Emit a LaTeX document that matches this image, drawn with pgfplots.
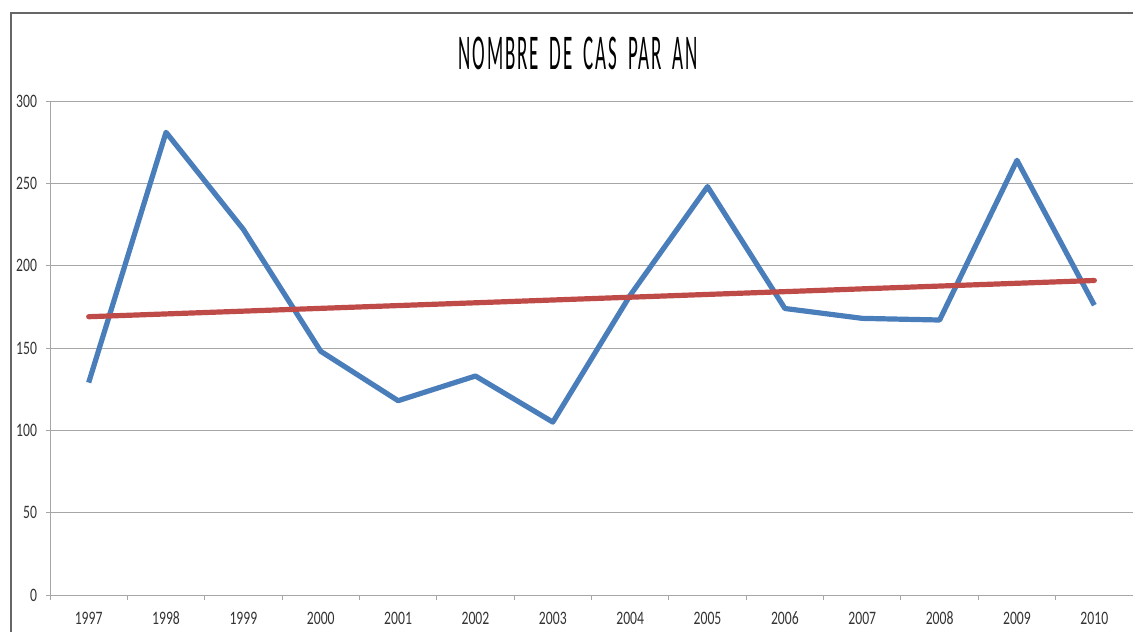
\documentclass[border=0pt]{standalone}
\usepackage{pgfplots}
\pgfplotsset{compat=1.18}
\usepackage{fontspec}
\setmainfont{Carlito}
\newfontfamily\tickfont[FakeStretch=0.72]{Carlito}
\newfontfamily\titlefont[FakeStretch=0.38,LetterSpace=4,WordSpace=1.7]{Carlito}
\definecolor{exblue}{HTML}{4A7EBB}
\definecolor{exred}{HTML}{BE4B48}
\definecolor{gridgray}{HTML}{A6A6A6}
\begin{document}
\begin{tikzpicture}[x=0.5pt,y=0.5pt]
\path[use as bounding box] (0,0) rectangle (1133,632);
\draw[color=gray!80!black,line width=0.6pt] (11,0) -- (11,619) -- (1133,619);
\node[font=\titlefont\fontsize{25}{25}\selectfont,anchor=base] at (578,632-70) {NOMBRE DE CAS PAR AN};
\begin{axis}[
  at={(25pt,18.5pt)}, anchor=south west,
  scale only axis, width=541.5pt, height=247pt,
  xmin=-0.5, xmax=13.5, ymin=0, ymax=300,
  xtick={0,...,13},
  xticklabels={1997,1998,1999,2000,2001,2002,2003,2004,2005,2006,2007,2008,2009,2010},
  minor xtick={-0.5,0.5,...,13.5},
  ytick={0,50,...,300},
  major x tick style={draw=none},
  minor x tick style={draw=gridgray,line width=0.5pt},
  ytick style={draw=gridgray,line width=0.5pt},
  tick align=outside,
  major tick length=2pt, minor tick length=2.5pt,
  ymajorgrids, grid style={gridgray,line width=0.5pt},
  axis line style={gridgray,line width=0.5pt},
  axis x line*=bottom, axis y line*=left,
  /pgf/number format/assume math mode=true,
  tick label style={font=\tickfont\fontsize{9.5}{10}\selectfont,text=black!80},
  xticklabel style={yshift=-2.5pt,text height=6.5pt,text depth=0pt},
  yticklabel style={xshift=-1pt},
  clip=false,
]
\addplot[exblue,line width=2.6pt,line join=round] coordinates {
(0,129) (1,281) (2,222) (3,148) (4,118) (5,133) (6,105) (7,182) (8,248) (9,174) (10,168) (11,167) (12,264) (13,176)};
\addplot[exred,line width=2.6pt,line cap=round] coordinates {(0,169) (13,191)};
\end{axis}
\end{tikzpicture}
\end{document}
